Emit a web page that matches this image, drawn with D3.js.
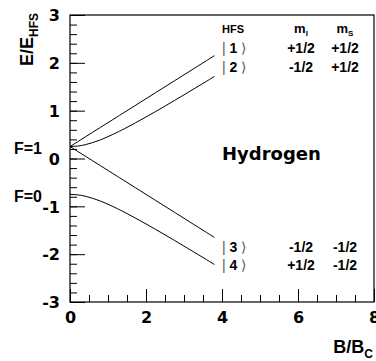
<!DOCTYPE html>
<html>
<head>
<meta charset="utf-8">
<script src="https://cdn.jsdelivr.net/npm/d3@7"></script>
<style>
  body { margin: 0; background: #fff; }
  svg text { font-family: "Liberation Sans", Arial, sans-serif; font-weight: bold; fill: #000; }
  svg .tick text { font-family: "DejaVu Sans", sans-serif; }
</style>
</head>
<body>
<svg id="chart" width="376" height="361"></svg>
<script>
// B/Bc sample points and the four hyperfine levels
var bField = [0, 0.2, 0.4, 0.6, 0.8, 1.0, 1.25, 1.5, 2.0, 2.5, 3.0, 3.5, 3.8];
var level1 = [0.25, 0.35, 0.45, 0.55, 0.65, 0.75, 0.875, 1.0, 1.25, 1.5, 1.75, 2.0, 2.15];
var level2 = [0.25, 0.26, 0.288, 0.333, 0.39, 0.457, 0.55, 0.651, 0.868, 1.096, 1.331, 1.57, 1.715];
var level3 = [0.25, 0.15, 0.05, -0.05, -0.15, -0.25, -0.375, -0.5, -0.75, -1.0, -1.25, -1.5, -1.65];
var level4 = [-0.75, -0.76, -0.788, -0.833, -0.89, -0.957, -1.05, -1.151, -1.368, -1.596, -1.831, -2.07, -2.215];

var stateLabels = ["1", "2", "3", "4"];
var mIValues = ["+1/2", "-1/2", "-1/2", "+1/2"];
var mSValues = ["+1/2", "+1/2", "-1/2", "-1/2"];

var xTicks = [0, 2, 4, 6, 8];
var yTicks = [-3, -2, -1, 0, 1, 2, 3];

var svg = d3.select("#chart");

var x = d3.scaleLinear().domain([0, 8]).range([70, 374]);
var y = d3.scaleLinear().domain([-3, 3]).range([302, 15]);

//Minor ticks
svg.append("g")
    .attr("transform", "translate(70,0)")
    .call(d3.axisLeft(y).tickValues(d3.range(-3, 3.001, 0.2)).tickSize(-7).tickFormat(""))
    .call(function(g) { g.select(".domain").remove(); });

svg.append("g")
    .attr("transform", "translate(0,302)")
    .call(d3.axisBottom(x).tickValues(d3.range(0, 8.001, 0.5)).tickSize(-7).tickFormat(""))
    .call(function(g) { g.select(".domain").remove(); });

//Major ticks and labels (plain hyphen for negatives, as in the original)
var yAxis = svg.append("g")
    .attr("transform", "translate(70,0)")
    .call(d3.axisLeft(y).tickValues(yTicks).tickSize(-15).tickPadding(10).tickFormat(function(d) { return String(d); }));
yAxis.select(".domain").remove();
yAxis.selectAll("text").style("font-size", "16px").attr("dy", "0.36em");

var xAxis = svg.append("g")
    .attr("transform", "translate(0,302)")
    .call(d3.axisBottom(x).tickValues(xTicks).tickSize(-13).tickPadding(10).tickFormat(function(d) { return String(d); }));
xAxis.select(".domain").remove();
xAxis.selectAll("text").style("font-size", "16px");

svg.selectAll(".tick line").attr("stroke", "#000");

//Frame
svg.append("rect")
    .attr("x", 70).attr("y", 15)
    .attr("width", 304).attr("height", 287)
    .attr("fill", "none")
    .attr("stroke", "#000")
    .attr("stroke-width", 1.2);

//Level curves
var line = d3.line()
    .x(function(d) { return x(d[0]); })
    .y(function(d) { return y(d[1]); })
    .curve(d3.curveNatural);

[level1, level2, level3, level4].forEach(function(level) {
    svg.append("path")
        .datum(bField.map(function(b, i) { return [b, level[i]]; }))
        .attr("d", line)
        .attr("fill", "none")
        .attr("stroke", "#000")
        .attr("stroke-width", 1);
});

//Axis titles
var yTitle = svg.append("text")
    .attr("transform", "translate(33,13) rotate(-90)")
    .attr("text-anchor", "end")
    .style("font-size", "18px");
yTitle.append("tspan").text("E/E");
yTitle.append("tspan").attr("dy", 5).style("font-size", "12px").text("HFS");

var xTitle = svg.append("text")
    .attr("x", 373).attr("y", 353)
    .attr("text-anchor", "end")
    .style("font-size", "18px");
xTitle.append("tspan").text("B/B");
xTitle.append("tspan").attr("dy", 5).style("font-size", "12px").text("C");

//Hyperfine labels
svg.append("text").attr("x", 14).attr("y", 154).style("font-size", "16px").text("F=1");
svg.append("text").attr("x", 14).attr("y", 202).style("font-size", "16px").text("F=0");

svg.append("text").attr("x", 222).attr("y", 160)
    .style("font-family", "'DejaVu Sans', sans-serif")
    .style("font-size", "18px").text("Hydrogen");

//Table of states
svg.append("text").attr("x", 222).attr("y", 33).style("font-size", "11px").text("HFS");

var hI = svg.append("text").attr("x", 301).attr("y", 33).attr("text-anchor", "middle").style("font-size", "13px");
hI.append("tspan").text("m");
hI.append("tspan").attr("dy", 3).style("font-size", "8px").text("I");

var hS = svg.append("text").attr("x", 345).attr("y", 33).attr("text-anchor", "middle").style("font-size", "13px");
hS.append("tspan").text("m");
hS.append("tspan").attr("dy", 3).style("font-size", "8px").text("S");

var rowY = [53, 72, 252, 270];

stateLabels.forEach(function(s, i) {
    var t = svg.append("text").attr("x", 222).attr("y", rowY[i]).style("font-size", "14px");
    t.append("tspan").style("font-weight", "normal").attr("fill", "#555").text("|");
    t.append("tspan").text(" " + s + " ");
    t.append("tspan").style("font-weight", "normal").attr("fill", "#555").text("\u27E9");

    svg.append("text").attr("x", 301).attr("y", rowY[i]).attr("text-anchor", "middle")
        .style("font-size", "14px").text(mIValues[i]);
    svg.append("text").attr("x", 345).attr("y", rowY[i]).attr("text-anchor", "middle")
        .style("font-size", "14px").text(mSValues[i]);
});
</script>
</body>
</html>
